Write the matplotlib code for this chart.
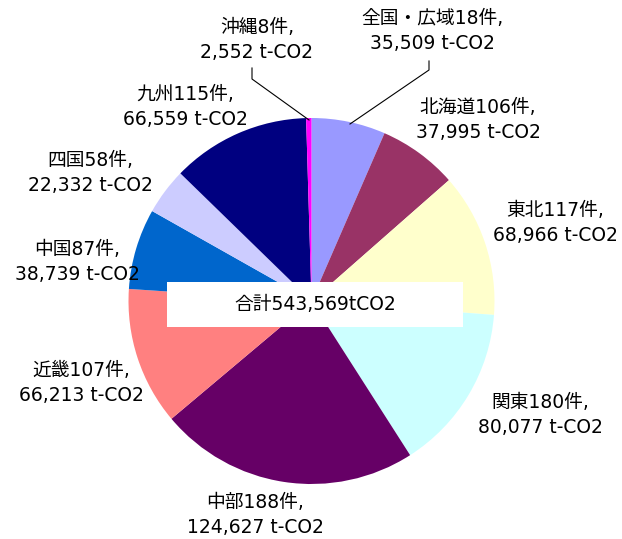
import matplotlib.pyplot as plt
from matplotlib.patches import Rectangle

plt.rcParams['font.family'] = ['DejaVu Sans', 'Noto Sans CJK JP']

# data (clockwise from top)
regions = ["全国・広域", "北海道", "東北", "関東", "中部", "近畿", "中国", "四国", "九州", "沖縄"]
counts = [18, 106, 117, 180, 188, 107, 87, 58, 115, 8]
co2 = [35509, 37995, 68966, 80077, 124627, 66213, 38739, 22332, 66559, 2552]
colors = ["#9999FF", "#993366", "#FFFFCC", "#CCFFFF", "#660066",
          "#FF8080", "#0066CC", "#CCCCFF", "#000080", "#FF00FF"]
total_label = "合計543,569tCO2"

# label centres in pixel coordinates (y from top)
label_pos = [(432, 31), (478, 120), (555, 223), (540, 415), (255, 515),
             (81, 383), (77, 262), (90, 173), (185, 107), (257, 40)]

W, H = 622, 539
fig = plt.figure(figsize=(W / 100, H / 100), dpi=100)
ax = fig.add_axes([0, 0, 1, 1])

cx, cy, r = 311.5, H - 301, 183
ax.pie(co2, colors=colors, startangle=90, counterclock=False,
       center=(cx, cy), radius=r, frame=True,
       wedgeprops=dict(linewidth=0))
ax.set_xlim(0, W)
ax.set_ylim(0, H)
ax.set_aspect('equal')
ax.axis('off')

for name, n, v, (x, y) in zip(regions, counts, co2, label_pos):
    ax.text(x, H - y, f"{name}{n}件,\n{v:,} t-CO2", ha='center', va='center',
            fontsize=13.5, linespacing=1.4, color='black')

# leader lines
ax.plot([252, 252, 309], [H - 68, H - 79, H - 120], color='black', lw=0.8)
ax.plot([429, 429, 350], [H - 61, H - 70, H - 124], color='black', lw=0.8)

# total box
ax.add_patch(Rectangle((167, H - 327), 296, 45, facecolor='white', edgecolor='none', zorder=3))
ax.text(315, H - 305, total_label, ha='center', va='center', fontsize=13.5, zorder=4)

fig.savefig("out.png", dpi=100)
